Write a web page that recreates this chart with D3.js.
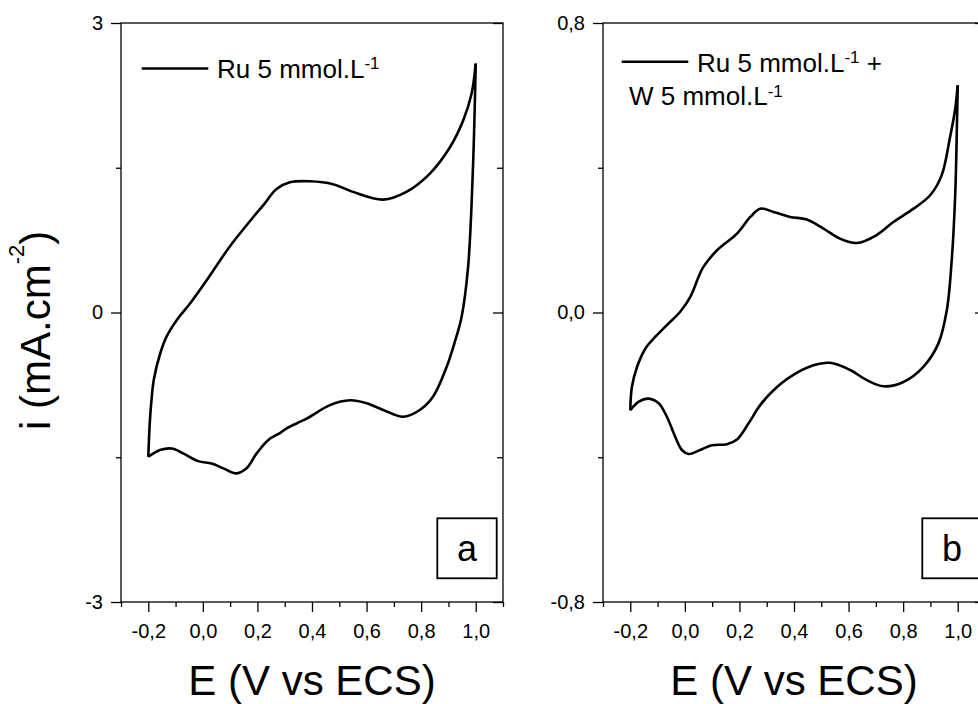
<!DOCTYPE html>
<html>
<head>
<meta charset="utf-8">
<script src="https://cdn.jsdelivr.net/npm/d3@7/dist/d3.min.js"></script>
<style>
  html, body { margin: 0; padding: 0; background: #fff; }
  svg { display: block; font-family: "Liberation Sans", Arial, sans-serif; }
</style>
</head>
<body>
<svg id="chart" width="978" height="704"></svg>
<script>
// ---------- data ----------
const xDomain = [-0.3, 1.1];
const xMajor = [-0.2, 0.0, 0.2, 0.4, 0.6, 0.8, 1.0];
const xMajorLabels = ["-0,2", "0,0", "0,2", "0,4", "0,6", "0,8", "1,0"];
const xMinor = [-0.3, -0.1, 0.1, 0.3, 0.5, 0.7, 0.9, 1.1];

const aYDomain = [-3, 3];
const aYMajor = [-3, 0, 3];
const aYMajorLabels = ["-3", "0", "3"];
const aYMinor = [-1.5, 1.5];

const bYDomain = [-0.8, 0.8];
const bYMajor = [-0.8, 0.0, 0.8];
const bYMajorLabels = ["-0,8", "0,0", "0,8"];
const bYMinor = [-0.4, 0.4];

// Panel a: Ru 5 mmol/L — anodic (forward) and cathodic (reverse) sweeps
const aFwdE = [-0.2, -0.194, -0.188, -0.18, -0.157, -0.133, -0.096, -0.047, 0.014, 0.063, 0.111, 0.185, 0.221, 0.27, 0.319, 0.392, 0.477, 0.55, 0.661, 0.746, 0.832, 0.905, 0.954, 0.985, 1.0];
const aFwdI = [-1.495, -1.115, -0.90, -0.70, -0.43, -0.25, -0.08, 0.093, 0.334, 0.54, 0.73, 0.99, 1.11, 1.28, 1.35, 1.36, 1.33, 1.25, 1.17, 1.25, 1.44, 1.71, 1.99, 2.27, 2.58];
const aRevE = [1.0, 0.99, 0.972, 0.948, 0.925, 0.894, 0.844, 0.795, 0.734, 0.661, 0.6, 0.539, 0.466, 0.38, 0.307, 0.282, 0.24, 0.197, 0.16, 0.124, 0.075, 0.032, -0.017, -0.072, -0.114, -0.157, -0.2];
const aRevI = [2.58, 1.51, 0.47, -0.05, -0.29, -0.56, -0.87, -1.01, -1.08, -1.01, -0.94, -0.91, -0.96, -1.10, -1.20, -1.25, -1.32, -1.46, -1.615, -1.667, -1.615, -1.565, -1.54, -1.46, -1.41, -1.425, -1.495];

// Panel b: Ru 5 mmol/L + W 5 mmol/L
const bFwdE = [-0.2, -0.194, -0.175, -0.145, -0.108, -0.066, -0.017, 0.02, 0.05, 0.068, 0.118, 0.191, 0.24, 0.276, 0.325, 0.386, 0.447, 0.508, 0.569, 0.63, 0.703, 0.764, 0.838, 0.899, 0.941, 0.972, 0.99, 1.0];
const bFwdI = [-0.27, -0.205, -0.15, -0.10, -0.067, -0.035, 0.002, 0.043, 0.098, 0.126, 0.172, 0.218, 0.264, 0.287, 0.278, 0.264, 0.257, 0.232, 0.204, 0.192, 0.214, 0.25, 0.287, 0.324, 0.379, 0.485, 0.559, 0.628];
const bRevE = [1.0, 0.997, 0.991, 0.978, 0.96, 0.929, 0.874, 0.801, 0.728, 0.667, 0.606, 0.533, 0.471, 0.386, 0.325, 0.276, 0.233, 0.191, 0.154, 0.099, 0.056, 0.014, -0.011, -0.035, -0.066, -0.096, -0.133, -0.17, -0.2];
const bRevI = [0.628, 0.513, 0.329, 0.144, 0.006, -0.086, -0.15, -0.192, -0.204, -0.187, -0.159, -0.139, -0.146, -0.178, -0.215, -0.256, -0.307, -0.351, -0.364, -0.367, -0.38, -0.391, -0.38, -0.344, -0.288, -0.251, -0.238, -0.247, -0.27];

const xTitle = "E (V vs ECS)";

// ---------- drawing ----------
const svg = d3.select("#chart");
const plotTop = 23, plotBottom = 602;
const AXIS_W = 1.3;

function zip(xs, ys) { return xs.map((x, i) => [x, ys[i]]); }

function drawPanel(cfg) {
  const x = d3.scaleLinear().domain(xDomain).range([cfg.left, cfg.right]);
  const y = d3.scaleLinear().domain(cfg.yDomain).range([plotBottom, plotTop]);
  const g = svg.append("g");

  const styleAxis = sel => {
    sel.select(".domain").remove();
    sel.selectAll("line").attr("stroke", "#000").attr("stroke-width", AXIS_W);
    sel.selectAll("text").attr("fill", "#000").style("font-size", "20px")
       .style("font-family", '"Liberation Sans", Arial, sans-serif');
  };

  // bottom axis: major + minor
  g.append("g").attr("transform", `translate(0,${plotBottom})`)
    .call(d3.axisBottom(x).tickValues(xMajor).tickSize(10).tickPadding(12)
      .tickFormat((d, i) => xMajorLabels[i]))
    .call(styleAxis);
  g.append("g").attr("transform", `translate(0,${plotBottom})`)
    .call(d3.axisBottom(x).tickValues(xMinor).tickSize(5).tickFormat(""))
    .call(styleAxis);

  // left axis: major + minor
  g.append("g").attr("transform", `translate(${cfg.left},0)`)
    .call(d3.axisLeft(y).tickValues(cfg.yMajor).tickSize(10).tickPadding(8)
      .tickFormat((d, i) => cfg.yLabels[i]))
    .call(styleAxis);
  g.append("g").attr("transform", `translate(${cfg.left},0)`)
    .call(d3.axisLeft(y).tickValues(cfg.yMinor).tickSize(5).tickFormat(""))
    .call(styleAxis);

  // right side inward ticks
  g.append("g").attr("transform", `translate(${cfg.right},0)`)
    .call(d3.axisRight(y).tickValues(cfg.yMajor).tickSize(-10).tickFormat(""))
    .call(styleAxis);
  g.append("g").attr("transform", `translate(${cfg.right},0)`)
    .call(d3.axisRight(y).tickValues(cfg.yMinor).tickSize(-6).tickFormat(""))
    .call(styleAxis);

  // frame
  g.append("rect")
    .attr("x", cfg.left).attr("y", plotTop)
    .attr("width", cfg.right - cfg.left).attr("height", plotBottom - plotTop)
    .attr("fill", "none").attr("stroke", "#000").attr("stroke-width", AXIS_W);

  // curves
  const line = d3.line().x(d => x(d[0])).y(d => y(d[1])).curve(d3.curveCatmullRom.alpha(0.5));
  [cfg.fwd, cfg.rev].forEach(pts => {
    g.append("path").attr("d", line(pts))
      .attr("fill", "none").attr("stroke", "#000").attr("stroke-width", 2.6)
      .attr("stroke-linejoin", "miter").attr("stroke-linecap", "butt");
  });

  // legend
  g.append("line")
    .attr("x1", cfg.legend.x1).attr("x2", cfg.legend.x2)
    .attr("y1", cfg.legend.y).attr("y2", cfg.legend.y)
    .attr("stroke", "#000").attr("stroke-width", 2.6);
  cfg.legend.lines.forEach(L => {
    const t = g.append("text").attr("x", L.x).attr("y", L.y)
      .style("font-size", "26px").attr("fill", "#000");
    t.append("tspan").text(L.main);
    t.append("tspan").attr("dy", -8.5).style("font-size", "17px").text("-1");
    if (L.after) t.append("tspan").attr("dy", 8.5).text(L.after);
  });

  // panel letter box
  g.append("rect")
    .attr("x", cfg.box.x).attr("y", 518.3).attr("width", 59.4).attr("height", 60)
    .attr("fill", "#fff").attr("stroke", "#000").attr("stroke-width", 1.8);
  g.append("text")
    .attr("x", cfg.box.x + 29.7).attr("y", 561)
    .attr("text-anchor", "middle").style("font-size", "36px").attr("fill", "#000")
    .text(cfg.box.label);

  // x title
  g.append("text")
    .attr("x", (cfg.left + cfg.right) / 2).attr("y", 695)
    .attr("text-anchor", "middle").style("font-size", "42px").attr("fill", "#000")
    .text(xTitle);
}

drawPanel({
  left: 121, right: 503,
  yDomain: aYDomain, yMajor: aYMajor, yLabels: aYMajorLabels, yMinor: aYMinor,
  fwd: zip(aFwdE, aFwdI), rev: zip(aRevE, aRevI),
  legend: { x1: 141.7, x2: 208.3, y: 68.5,
            lines: [{ x: 217, y: 77.5, main: "Ru 5 mmol.L" }] },
  box: { x: 437.3, label: "a" }
});

drawPanel({
  left: 603, right: 985,
  yDomain: bYDomain, yMajor: bYMajor, yLabels: bYMajorLabels, yMinor: bYMinor,
  fwd: zip(bFwdE, bFwdI), rev: zip(bRevE, bRevI),
  legend: { x1: 621.7, x2: 688.3, y: 61.7,
            lines: [{ x: 697, y: 71.7, main: "Ru 5 mmol.L", after: " +" },
                    { x: 629, y: 105, main: "W 5 mmol.L" }] },
  box: { x: 922.3, label: "b" }
});

// y title (rotated)
const yt = svg.append("text")
  .attr("transform", "translate(50,430) rotate(-90)")
  .attr("text-anchor", "start").style("font-size", "42px").attr("fill", "#000");
yt.append("tspan").text("i (mA.cm");
yt.append("tspan").attr("dy", -26).style("font-size", "22px").text("-2");
yt.append("tspan").attr("dy", 26).text(")");
</script>
</body>
</html>
